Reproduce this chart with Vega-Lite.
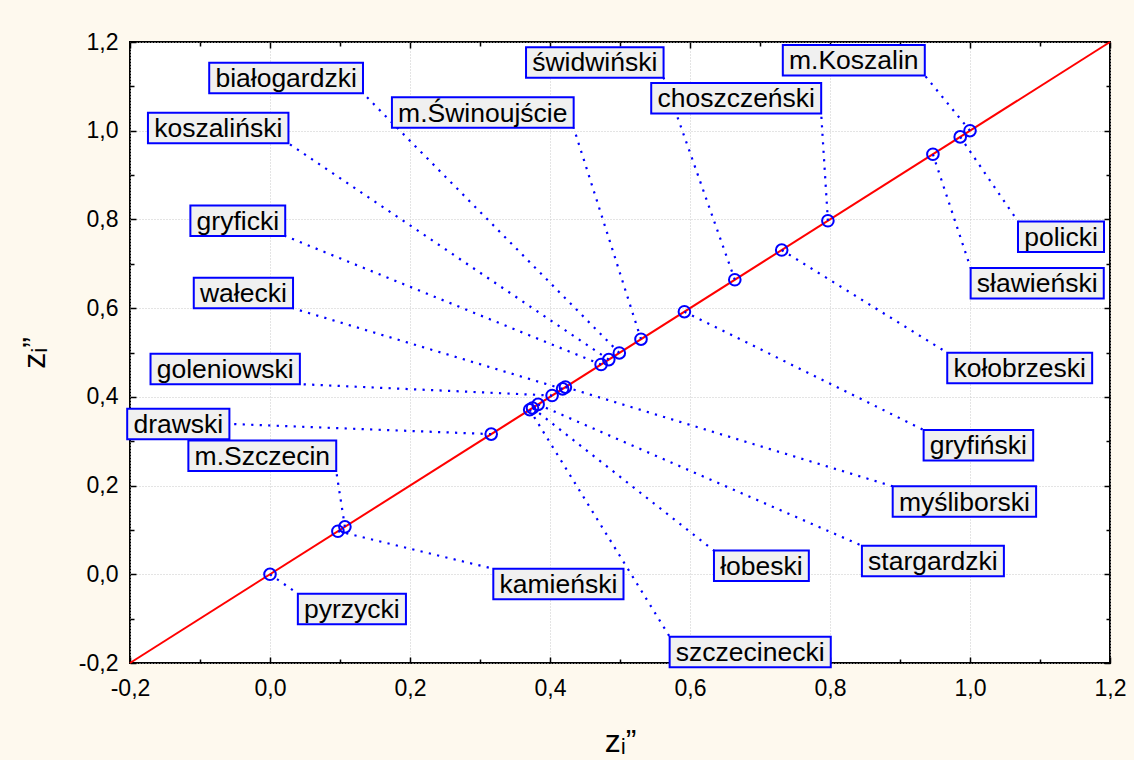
{
  "$schema": "https://vega.github.io/schema/vega-lite/v6.json",
  "width": 980,
  "height": 621,
  "autosize": {"type": "none"},
  "padding": {"left": 130, "top": 42, "right": 24, "bottom": 97},
  "background": "#fef9ee",
  "config": {
    "view": {"fill": "white", "stroke": "black", "strokeWidth": 2},
    "font": "Liberation Sans",
    "axis": {"labelFont": "Liberation Sans", "titleFont": "Liberation Sans", "labelColor": "black", "titleColor": "black", "tickColor": "black", "tickWidth": 1.5}
  },
  "datasets": {
    "pts": [
      {"name": "pyrzycki", "z": 0.0, "lx": 0.117, "ly": -0.078},
      {"name": "kamieński", "z": 0.097, "lx": 0.412, "ly": -0.022},
      {"name": "m.Szczecin", "z": 0.107, "lx": -0.011, "ly": 0.267},
      {"name": "drawski", "z": 0.316, "lx": -0.131, "ly": 0.339},
      {"name": "szczecinecki", "z": 0.371, "lx": 0.686, "ly": -0.175},
      {"name": "łobeski", "z": 0.375, "lx": 0.702, "ly": 0.019},
      {"name": "stargardzki", "z": 0.383, "lx": 0.947, "ly": 0.030},
      {"name": "goleniowski", "z": 0.403, "lx": -0.064, "ly": 0.463},
      {"name": "wałecki", "z": 0.418, "lx": -0.038, "ly": 0.634},
      {"name": "myśliborski", "z": 0.422, "lx": 0.992, "ly": 0.164},
      {"name": "gryficki", "z": 0.473, "lx": -0.046, "ly": 0.797},
      {"name": "koszaliński", "z": 0.484, "lx": -0.074, "ly": 1.006},
      {"name": "białogardzki", "z": 0.499, "lx": 0.023, "ly": 1.119},
      {"name": "m.Świnoujście", "z": 0.530, "lx": 0.304, "ly": 1.041},
      {"name": "gryfiński", "z": 0.592, "lx": 1.012, "ly": 0.291},
      {"name": "świdwiński", "z": 0.664, "lx": 0.464, "ly": 1.154},
      {"name": "kołobrzeski", "z": 0.731, "lx": 1.071, "ly": 0.465},
      {"name": "choszczeński", "z": 0.797, "lx": 0.666, "ly": 1.073},
      {"name": "sławieński", "z": 0.947, "lx": 1.096, "ly": 0.656},
      {"name": "policki", "z": 0.986, "lx": 1.130, "ly": 0.761},
      {"name": "m.Koszalin", "z": 1.0, "lx": 0.834, "ly": 1.159}
    ],
    "diag": [{"v": -0.2}, {"v": 1.2}]
  },
  "resolve": {"axis": {"x": "independent", "y": "independent"}},
  "layer": [
    {
      "data": {"name": "diag"},
      "mark": {"type": "line", "color": "#ff0000", "strokeWidth": 2},
      "encoding": {
        "x": {"field": "v", "type": "quantitative", "scale": {"domain": [-0.2, 1.2], "nice": false, "zero": false},
          "axis": {"orient": "bottom", "values": [-0.2, 0, 0.2, 0.4, 0.6, 0.8, 1.0, 1.2], "labelExpr": "replace(replace(format(datum.value, '.1f'), '.', ','), '\u2212', '-')", "ticks": false, "domain": false, "grid": true, "gridColor": "#c8c8c8", "gridDash": [1, 2], "gridWidth": 1, "labelFontSize": 23, "labelPadding": 14, "labelFlush": false, "labelOverlap": false, "title": "zᵢ”", "titleFontSize": 32, "titleFontWeight": "normal", "titleBaseline": "alphabetic", "titleY": 88}},
        "y": {"field": "v", "type": "quantitative", "scale": {"domain": [-0.2, 1.2], "nice": false, "zero": false},
          "axis": {"orient": "left", "values": [-0.2, 0, 0.2, 0.4, 0.6, 0.8, 1.0, 1.2], "labelExpr": "replace(replace(format(datum.value, '.1f'), '.', ','), '\u2212', '-')", "ticks": false, "domain": false, "grid": true, "gridColor": "#c8c8c8", "gridDash": [1, 2], "gridWidth": 1, "labelFontSize": 23, "labelPadding": 12, "labelFlush": false, "labelOverlap": false, "title": "zᵢ”", "titleFontSize": 32, "titleFontWeight": "normal", "titleBaseline": "alphabetic", "titleX": -86}}
      }
    },
    {
      "data": {"name": "pts"},
      "transform": [
        {"calculate": "length(datum.name)", "as": "L"},
        {"calculate": "0.556*datum.L - 0.334*(datum.L - length(replace(datum.name, regexp('[iljł]', 'g'), ''))) - 0.278*(datum.L - length(replace(datum.name, regexp('[.ft]', 'g'), ''))) - 0.223*(datum.L - length(replace(datum.name, regexp('r', 'g'), ''))) - 0.056*(datum.L - length(replace(datum.name, regexp('[kszcyśćź]', 'g'), ''))) + 0.277*(datum.L - length(replace(datum.name, regexp('m', 'g'), ''))) + 0.166*(datum.L - length(replace(datum.name, regexp('w', 'g'), ''))) + 0.111*(datum.L - length(replace(datum.name, regexp('[ŚKS]', 'g'), '')))", "as": "em"},
        {"calculate": "(26.5*datum.em + 12.4)/700", "as": "w"},
        {"calculate": "datum.lx - datum.w/2", "as": "bx1"},
        {"calculate": "datum.lx + datum.w/2", "as": "bx2"},
        {"calculate": "datum.ly - 0.0344", "as": "by1"},
        {"calculate": "datum.ly + 0.0344", "as": "by2"},
        {"calculate": "datum.z < datum.bx1 ? datum.bx1 : (datum.z > datum.bx2 ? datum.bx2 : datum.lx)", "as": "ex"},
        {"calculate": "datum.z < datum.by1 ? datum.by1 : (datum.z > datum.by2 ? datum.by2 : datum.ly)", "as": "ey"}
      ],
      "mark": {"type": "rule", "color": "#0000ff", "strokeWidth": 2.2, "strokeDash": [2.2, 6.3]},
      "encoding": {
        "x": {"field": "z", "type": "quantitative", "scale": {"domain": [-0.2, 1.2], "nice": false, "zero": false},
          "axis": {"orient": "bottom", "values": [-0.2, 0, 0.2, 0.4, 0.6, 0.8, 1.0, 1.2], "labels": false, "domain": false, "grid": false, "ticks": true, "tickSize": -6, "title": null}},
        "y": {"field": "z", "type": "quantitative", "scale": {"domain": [-0.2, 1.2], "nice": false, "zero": false},
          "axis": {"orient": "left", "values": [-0.2, 0, 0.2, 0.4, 0.6, 0.8, 1.0, 1.2], "labels": false, "domain": false, "grid": false, "ticks": true, "tickSize": -6, "title": null}},
        "x2": {"field": "ex"},
        "y2": {"field": "ey"}
      }
    },
    {
      "data": {"name": "pts"},
      "mark": {"type": "point", "shape": "circle", "filled": false, "color": "#0000ff", "strokeWidth": 2, "size": 135, "opacity": 1},
      "encoding": {
        "x": {"field": "z", "type": "quantitative", "scale": {"domain": [-0.2, 1.2], "nice": false, "zero": false},
          "axis": {"orient": "top", "values": [-0.2, 0, 0.2, 0.4, 0.6, 0.8, 1.0, 1.2], "labels": false, "domain": false, "grid": false, "ticks": true, "tickSize": -6, "title": null}},
        "y": {"field": "z", "type": "quantitative", "scale": {"domain": [-0.2, 1.2], "nice": false, "zero": false},
          "axis": {"orient": "right", "values": [-0.2, 0, 0.2, 0.4, 0.6, 0.8, 1.0, 1.2], "labels": false, "domain": false, "grid": false, "ticks": true, "tickSize": -6, "title": null}}
      }
    },
    {
      "data": {"name": "pts"},
      "transform": [
        {"calculate": "length(datum.name)", "as": "L"},
        {"calculate": "0.556*datum.L - 0.334*(datum.L - length(replace(datum.name, regexp('[iljł]', 'g'), ''))) - 0.278*(datum.L - length(replace(datum.name, regexp('[.ft]', 'g'), ''))) - 0.223*(datum.L - length(replace(datum.name, regexp('r', 'g'), ''))) - 0.056*(datum.L - length(replace(datum.name, regexp('[kszcyśćź]', 'g'), ''))) + 0.277*(datum.L - length(replace(datum.name, regexp('m', 'g'), ''))) + 0.166*(datum.L - length(replace(datum.name, regexp('w', 'g'), ''))) + 0.111*(datum.L - length(replace(datum.name, regexp('[ŚKS]', 'g'), '')))", "as": "em"},
        {"calculate": "(26.5*datum.em + 12.4)/700", "as": "w"},
        {"calculate": "datum.lx - datum.w/2", "as": "bx1"},
        {"calculate": "datum.lx + datum.w/2", "as": "bx2"},
        {"calculate": "datum.ly - 0.0344", "as": "by1"},
        {"calculate": "datum.ly + 0.0344", "as": "by2"}
      ],
      "mark": {"type": "rect", "fill": "#f0f0f0", "stroke": "#0000ff", "strokeWidth": 2},
      "encoding": {
        "x": {"field": "bx1", "type": "quantitative", "scale": {"domain": [-0.2, 1.2], "nice": false, "zero": false},
          "axis": {"orient": "bottom", "values": [-0.1, 0.1, 0.3, 0.5, 0.7, 0.9, 1.1], "labels": false, "domain": false, "grid": false, "ticks": true, "tickSize": -4, "title": null}},
        "x2": {"field": "bx2"},
        "y": {"field": "by1", "type": "quantitative", "scale": {"domain": [-0.2, 1.2], "nice": false, "zero": false},
          "axis": {"orient": "left", "values": [-0.1, 0.1, 0.3, 0.5, 0.7, 0.9, 1.1], "labels": false, "domain": false, "grid": false, "ticks": true, "tickSize": -4, "title": null}},
        "y2": {"field": "by2"}
      }
    },
    {
      "data": {"name": "pts"},
      "mark": {"type": "text", "fontSize": 26.5, "font": "Liberation Sans", "color": "black", "align": "center", "baseline": "middle", "dy": 1},
      "encoding": {
        "x": {"field": "lx", "type": "quantitative", "scale": {"domain": [-0.2, 1.2], "nice": false, "zero": false},
          "axis": {"orient": "top", "values": [-0.1, 0.1, 0.3, 0.5, 0.7, 0.9, 1.1], "labels": false, "domain": false, "grid": false, "ticks": true, "tickSize": -4, "title": null}},
        "y": {"field": "ly", "type": "quantitative", "scale": {"domain": [-0.2, 1.2], "nice": false, "zero": false},
          "axis": {"orient": "right", "values": [-0.1, 0.1, 0.3, 0.5, 0.7, 0.9, 1.1], "labels": false, "domain": false, "grid": false, "ticks": true, "tickSize": -4, "title": null}},
        "text": {"field": "name"}
      }
    }
  ]
}
